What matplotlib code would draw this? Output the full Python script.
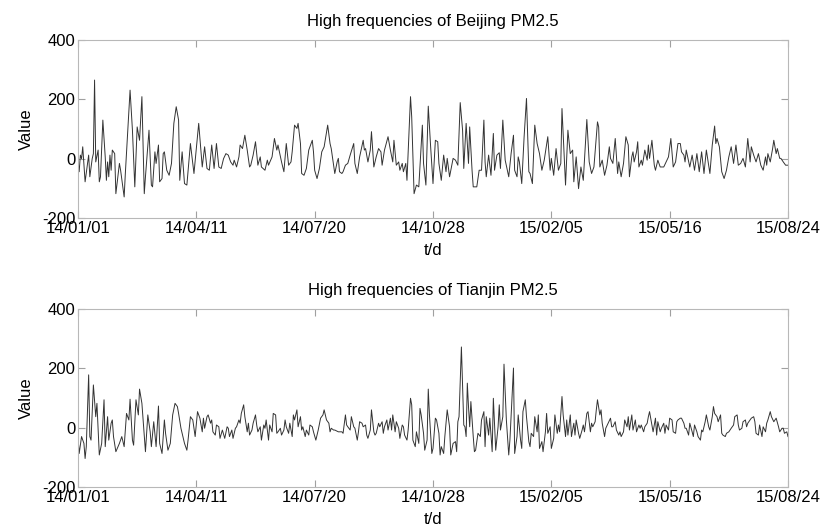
import matplotlib
matplotlib.use('Agg')
import matplotlib.pyplot as plt

plt.rcParams['font.family'] = ['Liberation Sans', 'DejaVu Sans']
plt.rcParams['axes.unicode_minus'] = False

tick_days = [0, 100, 200, 300, 400, 500, 600]
tick_labels = ['14/01/01', '14/04/11', '14/07/20', '14/10/28', '15/02/05', '15/05/16', '15/08/24']
y_ticks = [-200, 0, 200, 400]

bj_days = [0, 1, 2, 3, 4, 6, 9, 10, 12, 13, 14, 15, 17, 18, 19, 21, 23, 24, 25, 26, 27, 28, 29, 31, 32, 35, 36, 39, 40,
           44, 46, 48, 50, 52, 54, 56, 57, 60, 62, 63, 65, 66, 68, 69, 71, 72, 73, 75, 77, 79, 81, 83, 85, 86, 88, 90,
           92, 95, 98,
           102, 105, 107, 109, 111, 113, 115, 117, 119, 121, 123, 125, 127, 129, 131, 132, 134, 136, 137, 139, 141, 143,
           145, 146, 148, 150, 152, 154, 155, 158, 160, 161, 164, 166, 168, 169, 172, 174, 176, 178, 180, 181, 183, 185,
           186, 188, 189, 191, 193, 195, 198, 199, 200, 202, 204, 206, 208, 211, 213, 214, 217, 219, 220, 221, 223,
           224, 226, 228, 230, 233, 234, 236, 238, 241, 242, 243, 245, 247, 248, 250, 252, 254, 256, 257, 259, 262, 264,
           266, 267, 269, 271, 272, 274, 275, 277, 278, 281, 282, 284, 286, 288, 291, 292, 294, 296, 298, 300, 302, 304,
           305, 307, 309, 311, 312, 314, 317, 319, 321, 323, 325, 326, 328, 330, 331, 333, 334, 337, 339, 341, 343, 344,
           345, 347,
           349, 351, 352, 354, 356, 357, 359, 361, 364, 366, 368, 369, 371, 372, 373, 375, 377, 379, 381, 382, 384, 386,
           388, 390, 392, 394, 397, 399, 400, 402, 404, 406, 408, 409, 412, 414, 416, 418, 419, 421, 423, 425, 427, 430,
           432, 434, 436, 439, 440, 441, 443, 445, 447, 449, 450, 452, 454, 456, 457, 459, 461, 463, 465, 466, 468, 469,
           470, 472, 473, 474, 476, 477, 479, 481, 482, 483, 485, 487, 488, 490, 492, 495, 497, 499, 501, 503, 505, 507,
           509, 510, 512, 513, 514, 517, 519, 521, 523, 525, 527, 529, 531, 534, 536, 538, 539, 540, 542, 544, 546, 548,
           550, 552, 554, 556, 558, 560, 562, 564, 566, 568, 569, 571, 573, 575, 577, 579, 581, 582, 583, 585, 587, 588,
           590, 591, 593, 594, 596, 598, 600]
bj_vals = [-5, -44, 12, 0, 40, -78, 12, -61, 0, 17, 265, -11, 29, -78, -61, 130, 6, -73, -11, -61, 12, -39, 29, 17, -118,
           -16, -39, -129, -50,
           231, 96, -95, 107, 62, 209, -118, -61, 96, -89, -95, 23, -16, 46, -78, -67, 17, 23, -39, -56, -16, 119, 175,
           130, -73, 23, -84, -89, 51, -50,
           119, -28, 40, -33, -39, 46, -33, 51, -28, -33, 0, 17, 12, -11, -22, -5, -28, 6, 46, 34, 79, 29,
           -28, -22, 12, 57, -22, 6, -28, -39, -5, -22, 6, 68, 29, 46, -11, -44, 51, -22, -11, 23, 113, 102,
           119, 51, -50, -56, -33, 29, 62, 23, -39, -67, -33, 23, 40, 113, 51, 34, -50, -11, 1, -44, -50,
           -44, -22, -16, 12, 51, -16, -50, 6, 62, 29, 34, -11, 29, 91, -28, 6, 34, 23, -22, 29, 74, 29,
           -11, 62, -22, -11, -39, -16, -44, -16, -73, 209, 141, -118, -89, -95, 113, -16, -89, 177, 40, -84, 62, 57,
           -16, -73, 12, -44, 1, -61, 1, -5, -22, 189, 96, -33, 119, -16, 107, -39, -95, -95, -39, -39, 130, -11,
           -61, 12,
           -56, 85, -39, 12, 20, -33, 130, -5, -61, 17, 79, -39, -61, 6, -11, -84, 74, 203, -44, -50, -84, 113,
           51, 17, -39, -5, 74, -39, 1, -56, 34, -39, -16, 169, -89, 96, 17, 29, -78, 6, -101, -28, -73, 132,
           -11, -50, -28, 124, 107, -28, -5, -56, -22, 40, 1, -16, 68, -50, -11, -61, -16, 74, 46, -61, 6, 23,
           -11, 23, 57, -28, -5, -22, 29, -5, 46, 1, 62, -22, -39, -5, -28, -28, -11, 6, 68, -28, -11, 51,
           51, 23, 12, -11, 29, -28, 12, -39, 17, -44, 23, -50, 29, -50, 46, 110, 51, 68, 40, -44, -67, -39,
           6, 40, -16, 46, -22, -16, 1, -28, 68, -11, 40, 12, -11, 17, -22, -39, 6, -22, 17, -11, 34, 62,
           17, 34, 1, 1, -11, -22, -22]

tj_days = [0, 1, 3, 5, 6, 7, 9, 10, 11, 13, 15, 16, 18, 20, 22, 23, 25, 26, 28, 29, 30, 32, 35, 37, 39, 41, 43, 44, 46,
           47, 49, 51, 52, 54, 57, 59, 61, 62, 64, 66, 68, 69, 71, 73, 74, 76, 78, 80, 82, 84, 85, 87, 90, 92, 93, 95,
           97, 99, 101,
           103, 105, 106, 107, 109, 110, 112, 113, 114, 116, 117, 119, 120, 122, 124, 126, 127, 128, 130, 131, 133, 134,
           136, 137, 138, 140, 141, 143, 144, 145, 147, 148, 150, 151, 152, 154, 155, 157, 158, 159, 161, 162, 164, 165,
           167, 168, 169, 171, 172, 174, 175, 176, 178, 179, 181, 182, 183, 185, 186, 188, 189, 190, 192, 193, 195, 196,
           198, 199, 201, 203, 205, 207, 208, 210, 212, 213, 214, 216, 217, 220, 223,
           224, 226, 227, 228, 230, 231, 233, 234, 236, 237, 238, 240, 241, 243, 244, 245, 247, 248, 250, 251, 252, 254,
           255, 257, 258, 259, 261, 262, 264, 265, 266, 268, 269, 271, 272, 274, 275, 276, 278, 279, 281, 282, 283, 285,
           286, 288, 289, 290, 292, 293, 295, 296, 297, 299, 300, 302, 303, 305, 306, 307, 309, 310, 312, 314, 315, 317,
           319, 320, 321, 322, 324, 326, 327, 328, 329, 330, 331, 332, 334, 335, 336, 338, 340, 341, 343, 344, 345, 347,
           348, 350, 351, 353, 355, 356, 357, 359, 360, 362, 364, 365, 366, 368, 369, 371, 372, 374, 375, 376, 378, 379,
           381, 382, 383, 385, 386, 388, 389, 390, 392, 393, 395, 396, 397, 399, 400, 402, 403, 405, 406, 407, 409, 410,
           412, 413, 414, 416, 417, 419, 420, 421, 423, 424, 426, 427, 428, 430, 431, 433, 434, 435, 437, 438, 439, 441,
           442, 443, 445, 446, 448, 450, 451, 452, 454, 455, 457, 458, 459, 461, 462, 464, 465, 466, 468, 469,
           471, 472, 474, 475, 476, 478, 479, 481, 482, 483, 485, 486, 488, 489, 490, 492, 493, 495, 496, 497, 499, 500,
           502, 503, 505, 506, 507, 509, 510, 512, 513, 514, 516, 517, 519, 520, 521, 523, 524, 526, 527, 528, 530, 531,
           533, 534, 536, 537, 538, 540, 541, 543, 544, 545, 547, 548, 550, 551, 552, 554, 555, 557, 558, 559, 561, 562,
           564, 565, 566, 568, 569, 571, 572, 573, 575, 576, 578, 579, 581, 582, 583, 585, 586, 588, 589, 590, 592, 593,
           595, 596, 597, 599, 600]
tj_vals = [-30, -87, -30, -53, -104, -64, 178, -30, -42, 144, 37, 82, -92, -53, 94, -64, 37, -42, 15, 26, -30, -81, -53,
           -30, -64, 48, 26, 96, -42,
           -59, 94, 43, 130, 82, -81, 43, -14, -64, 20, -64, 73, -53, -87, 26, -19, -76, -53, 43, 82, 71, 48, -2, -53,
           -76, -42, 37,
           26, -30, 54,
           32, -14, 32, -2, 37, 43, 15, 26, -14, -25, 9, 3, -36, -8, -36, 3, -2, -30, -8, -36, -2, 3,
           26, 15, 48, 77, 37, -14, 15, -25, -8, 15, 43, 9, -14, 3, -42, 9, -2, 26, -42, 9, -14, 48,
           43, -19, -14, -2, -25, -8, 26, 3, -19, 15, -30, 43, 26, 60, 3, 37, -8, 3, -30, -8, -25, 9,
           3, -14, -42, -8, 32, 43, 60, 26, 15, -14, -2, -8, -8, -14, -14,
           -19, 43, 9, 3, -8, 37, 3, -2, -42, -14, 20, 15, 3, 9, -25, -36, -8, 60, -14, -25, -19, 15,
           3, 20, -19, 3, 26, -8, 32, -8, 43, -14, 20, -2, -36, 9, 3, -25, -42, -8, 99, 77, -42, -64,
           -14, -53, 65, 43, -19, -76, -42, 130, 43, -87, -70, 32, 26, -19, -92, -64, -87, -30, 60, 3, -92, -53,
           -47, -81, 20, 37, 272, 9, 3, -30, 150, 71, 3, 88, -30, -81, -76, -19, -30, 26, 54, -64, 37, -25,
           32, -81, 99, -76, 3, 77, -8, 37, 214, 26, -92, -42, 37, 201, -87, -30, 43, -42, -70, 54, 94, 37,
           -47, -64, -19, -30, 37, -14, 43, -70, -47, -81, -14, 48, -19, 3, -70, -36, 43, -19, 9, -14, 105, 43,
           -30, 26, -25, 43, -30, 15, -25, 26, -19, -36, -8, 9, -14, 48, 54, -14, 15, 3, 20, 60, 94, 43,
           60, 15, -30, -2, 15, 32, 3, 3, 20, -8, -25, -14, -30, -14, 26, 3, 37, -8, 43, -8,
           26, -14, 9, -2, 9, -14, 3, 15, 37, 54, 9, -14, 32, -25, 20, -14, -2, 15, -19, 9, -8, 32,
           26, -14, -19, 20, 26, 32, 32, 15, -2, -2, -25, 15, -14, -30, 9, -14, -30, -42, -8, -14, 20, 43,
           3, -8, 37, 71, 48, 37, 20, 43, -19, -25, -30, -19, -14, -8, -2, 9, 37, 43, 9, -8, -2, 20,
           26, 3, 15, 26, 32, 37, 20, -19, -25, 9, -30, 3, -14, 15, 26, 54, 37, 20, 26, 32, 3, -14,
           -2, -2, -19, -14, -30]

series = [(bj_days, bj_vals, 'High frequencies of Beijing PM2.5'),
          (tj_days, tj_vals, 'High frequencies of Tianjin PM2.5')]

fig = plt.figure(figsize=(8.24, 5.31), dpi=100)
boxes = [[78 / 824, 1 - 218 / 531, 710 / 824, 178 / 531],
         [78 / 824, 1 - 487 / 531, 710 / 824, 178 / 531]]

for box, (d, v, title) in zip(boxes, series):
    ax = fig.add_axes(box)
    ax.plot(d, v, color='#333333', lw=0.7)
    ax.set_xlim(0, 600)
    ax.set_ylim(-200, 400)
    ax.set_xticks(tick_days)
    ax.set_xticklabels(tick_labels)
    ax.set_yticks(y_ticks)
    ax.tick_params(direction='in', length=5, width=0.8, color='#a0a0a0',
                   top=True, right=True, labelsize=12, pad=2)
    for s in ax.spines.values():
        s.set_color('#b8b8b8')
        s.set_linewidth(0.8)
    ax.set_title(title, fontsize=12, pad=10)
    ax.set_xlabel('t/d', fontsize=12, labelpad=5)
    ax.set_ylabel('Value', fontsize=12, labelpad=6)

fig.savefig('out.png', dpi=100)
